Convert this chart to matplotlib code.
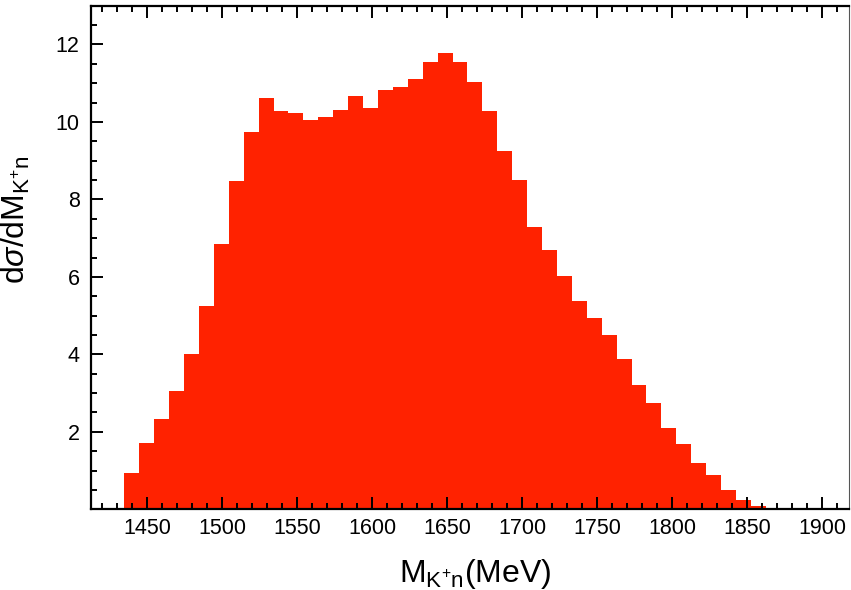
import matplotlib
matplotlib.use('Agg')
import matplotlib.pyplot as plt
import numpy as np
from matplotlib.ticker import MultipleLocator

# histogram contents (43 bins, ~10 MeV wide)
heights = [0.93, 1.70, 2.32, 3.06, 4.02, 5.25, 6.86, 8.47, 9.74, 10.63,
           10.28, 10.24, 10.06, 10.14, 10.30, 10.67, 10.37, 10.83, 10.89, 11.10,
           11.56, 11.79, 11.54, 11.04, 10.27, 9.25, 8.50, 7.28, 6.69, 6.02,
           5.38, 4.95, 4.49, 3.87, 3.20, 2.74, 2.09, 1.69, 1.20, 0.89,
           0.50, 0.24, 0.085]
mass_lo = 1434.7
mass_hi = 1862.5
xticks = [1450, 1500, 1550, 1600, 1650, 1700, 1750, 1800, 1850, 1900]
yticks = [2, 4, 6, 8, 10, 12]

plt.rcParams['font.family'] = ['Liberation Sans', 'DejaVu Sans']
plt.rcParams['mathtext.fontset'] = 'custom'
plt.rcParams['mathtext.rm'] = 'Liberation Sans'
plt.rcParams['mathtext.it'] = 'Liberation Sans:italic'

edges = np.linspace(mass_lo, mass_hi, len(heights) + 1)

fig = plt.figure(figsize=(8.51, 5.9), dpi=100)
ax = fig.add_axes([0.1066, 0.1368, 0.8915, 0.8535])

ax.stairs(heights, edges, fill=True, color='#ff2200', linewidth=0)

ax.set_xlim(1412.3, 1918.2)
ax.set_ylim(0, 13)
ax.set_xticks(xticks)
ax.set_yticks(yticks)
ax.xaxis.set_minor_locator(MultipleLocator(10))
ax.yaxis.set_minor_locator(MultipleLocator(0.5))

ax.tick_params(which='both', direction='in', top=True, right=False, width=1.4, labelsize=15.5)
ax.tick_params(which='major', length=8.5)
ax.tick_params(axis='x', which='major', pad=6)
ax.tick_params(axis='y', which='major', pad=8)
ax.tick_params(which='minor', length=4.3)

for s in ['left', 'bottom', 'top']:
    ax.spines[s].set_linewidth(1.6)
ax.spines['right'].set_linewidth(0.8)
ax.spines['right'].set_color('#555555')

ax.set_xlabel(r'$\mathregular{M_{K^{+}n}(MeV)}$', fontsize=23)
ax.set_ylabel(r'$\mathregular{d}\sigma\mathregular{/dM_{K^{+}n}}$', fontsize=23)
ax.xaxis.set_label_coords(0.507, -0.095)
ax.yaxis.set_label_coords(-0.077, 0.575)

fig.savefig('out.png', dpi=100)
